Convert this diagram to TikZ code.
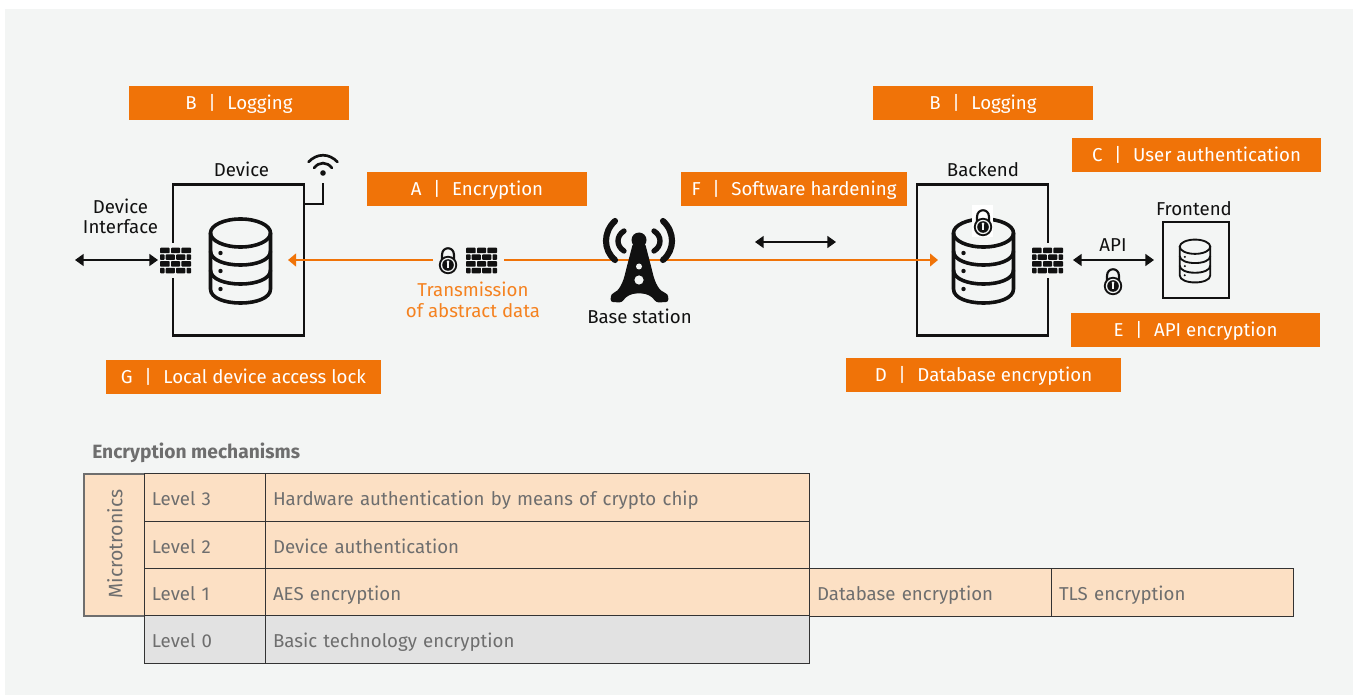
\documentclass[tikz,border=0pt]{standalone}
\usepackage{fontspec}
\setmainfont{Fira Sans}
\usetikzlibrary{arrows.meta}
\definecolor{bgc}{HTML}{F3F5F4}
\definecolor{orangec}{HTML}{F07308}
\definecolor{orangetxt}{HTML}{F58220}
\definecolor{peach}{HTML}{FCE0C4}
\definecolor{greyfill}{HTML}{E2E2E2}
\definecolor{greytxt}{HTML}{6E6E6E}
\definecolor{ink}{HTML}{111111}
\definecolor{tline}{HTML}{333333}
\newcommand{\lbl}[2]{#1\hspace{0.62em}|\hspace{0.62em}#2}
\newcommand{\dbicon}[4]{% x y scale linewidth
 \begin{scope}[shift={(#1,#2)},scale=#3,line width=#4,draw=ink]
  \draw (0,-27) ellipse [x radius=30,y radius=14];
  \draw (-30,-27) -- (-30,29) .. controls (-30,47.7) and (30,47.7) .. (30,29) -- (30,-27);
  \draw (-30,-9) .. controls (-30,9.7) and (30,9.7) .. (30,-9);
  \draw (-30,10) .. controls (-30,28.7) and (30,28.7) .. (30,10);
  \fill[ink] (-20,-7) circle [radius=2.2] (-20,11) circle [radius=2.2] (-20,29) circle [radius=2.2];
 \end{scope}}
\newcommand{\brickwall}[2]{%
 \begin{scope}[shift={(#1,#2)}]
  \fill[bgc] (-16,-17.5) rectangle (16,17.5);
  \foreach \xa/\xb in {-15.5/-5.8,-4.5/4.5,5.8/15.5} {\fill[ink,rounded corners=0.6] (\xa,-12.8) rectangle (\xb,-7.3);\fill[ink,rounded corners=0.6] (\xa,0.6) rectangle (\xb,6.1);}
  \foreach \xa/\xb in {-15.5/-11,-9.8/-0.6,0.6/9.8,11/15.5} {\fill[ink,rounded corners=0.6] (\xa,-6.1) rectangle (\xb,-0.6);\fill[ink,rounded corners=0.6] (\xa,7.3) rectangle (\xb,12.8);}
 \end{scope}}
\newcommand{\padlock}[2]{%
 \begin{scope}[shift={(#1,#2)}]
  \draw[ink,line width=1.6pt] (-6,-5) -- (-6,-10) .. controls (-6,-19) and (6,-19) .. (6,-10) -- (6,-5);
  \fill[ink] (0,0) circle [radius=9.2];
  \fill[bgc] (0,0) circle [radius=7.2];
  \fill[ink] (0,0) circle [radius=5.8];
  \fill[bgc] (0,-3.2) circle [radius=1.5];
  \fill[bgc] (-0.7,-3) rectangle (0.7,3);
 \end{scope}}
\tikzset{
 x=0.75pt,y=-0.75pt,
 sized/.style 2 args={minimum width=#1*0.75pt,minimum height=#2*0.75pt},
 obox/.style={fill=orangec,text=white,inner sep=0pt,font=\fontsize{14}{16}\selectfont,text height=12pt,text depth=2.6pt},
 plain/.style={inner sep=0pt,text=ink,font=\fontsize{14}{14.6}\selectfont,align=center},
 orangelabel/.style={inner sep=0pt,text=orangetxt,font=\fontsize{14}{15.6}\selectfont,align=center},
 frame/.style={draw=ink,line width=1.6pt,inner sep=0pt},
 cell/.style 2 args={draw=tline,line width=0.9pt,fill=#2,text=greytxt,inner xsep=5.5pt,inner ysep=0pt,minimum width=#1*0.75pt,text width=#1*0.75pt-11pt,align=left,font=\fontsize{14}{16}\selectfont,text height=14.5pt,text depth=2.5pt},
 blackarrow/.style={draw=ink,line width=1.3pt,{Triangle[length=6.5pt,width=9pt]}-{Triangle[length=6.5pt,width=9pt]}},
 orangearrow/.style={draw=orangec,line width=1.5pt,-{Triangle[length=6pt,width=9.5pt]}},
}
\begin{document}
\begin{tikzpicture}
\useasboundingbox (0,0) rectangle (1353,695);
\fill[white] (0,0) rectangle (1353,695);
\fill[bgc] (5,9) rectangle (1353,695);

% boxes
\node[frame,sized={131}{151},anchor=center] (device) at (238.7,260) {};
\node[frame,sized={131}{151}] (backend) at (982.8,260) {};
\node[frame,sized={66}{76}] (frontend) at (1196,260) {};

% coordinates
\coordinate (ifaceL) at (75,260);
\coordinate (ifaceR) at (158,260);
\coordinate (devTip) at (288,260);
\coordinate (gapL) at (433,260);
\coordinate (gapR) at (504,260);
\coordinate (backTip) at (938,260);
\coordinate (midL) at (755,242);
\coordinate (midR) at (836,242);
\coordinate (apiL) at (1073,260);
\coordinate (apiR) at (1154,260);
\coordinate (wifiFoot) at (323,204);
\coordinate (wifiTop) at (323,183);

% connectors
\draw[orangearrow] (gapL) -- (devTip);
\draw[orangearrow] (gapR) -- (backTip);
\draw[blackarrow] (ifaceL) -- (ifaceR);
\draw[blackarrow] (midL) -- (midR);
\draw[blackarrow] (apiL) -- (apiR);
\draw[ink,line width=1.6pt] (device.east |- wifiFoot) -- (wifiFoot) -- (wifiTop);

% wifi
\begin{scope}[ink,line width=2pt,line cap=round]
 \draw (308.5,162) .. controls (317,153) and (329,153) .. (337.5,162);
 \draw (314,168) .. controls (319,161.5) and (327,161.5) .. (332,168);
 \fill[ink] (323,173) circle [radius=2.8];
\end{scope}

% icons
\dbicon{240.5}{260}{1}{2.7pt}
\dbicon{983.5}{260}{1}{2.7pt}
\dbicon{1195}{260.5}{0.51}{1.4pt}
\brickwall{175.5}{260.5}
\brickwall{481.5}{260.5}
\brickwall{1047.5}{260.5}
\padlock{448}{265}
\padlock{1113}{286}
\fill[white] (972,205) rectangle (993,237);
\padlock{983}{227}

% tower
\begin{scope}[ink]
 \fill (639,240) circle [radius=7.5];
 \fill[rounded corners=2pt] (633,243) -- (645,243) -- (652,270) .. controls (655,283) and (659,291) .. (668,294) -- (668.5,302) -- (656,302.5) .. controls (652,296) and (646,293.5) .. (639,293.5) .. controls (632,293.5) and (626,296) .. (622,302.5) -- (610.5,302) -- (611,294) .. controls (619,291) and (623,283) .. (626,270) -- cycle;
 \fill[bgc] (639,266.5) circle [radius=3];
 \fill[bgc] (639,280) circle [radius=4.6];
 \begin{scope}[line width=4.6pt,line cap=round]
  \draw (615,221) .. controls (603,232) and (603,250) .. (615,260);
  \draw (663,221) .. controls (675,232) and (675,250) .. (663,260);
 \end{scope}
 \begin{scope}[line width=4pt,line cap=round]
  \draw (624,231) .. controls (616,236) and (616,246) .. (624,251);
  \draw (654,231) .. controls (662,236) and (662,246) .. (654,251);
 \end{scope}
\end{scope}

% text labels
\node[plain] (tDevice) at (241.5,169.5) {Device};
\node[plain] (tIface) at (120.5,216.5) {Device\\Interface};
\node[plain] (tBackend) at (983,170) {Backend};
\node[plain] (tFrontend) at (1194,209) {Frontend};
\node[plain] (tApi) at (1113,245.5) {API};
\node[plain] (tBase) at (639.5,316.5) {Base station};
\node[orangelabel] (tTrans) at (473,300) {Transmission\\of abstract data};

% orange boxes
\node[obox,sized={220}{34}] (b1) at (239,103) {\lbl{B}{Logging}};
\node[obox,sized={220}{34}] (b2) at (983,103) {\lbl{B}{Logging}};
\node[obox,sized={249}{34}] (c) at (1196.5,155) {\lbl{C}{User authentication}};
\node[obox,sized={220}{34}] (a) at (477,189) {\lbl{A}{Encryption}};
\node[obox,sized={226}{34}] (f) at (794,189) {\lbl{F}{Software hardening}};
\node[obox,sized={249}{34}] (e) at (1195.5,330) {\lbl{E}{API encryption}};
\node[obox,sized={275}{34}] (g) at (243.5,377) {\lbl{G}{Local device access lock}};
\node[obox,sized={275}{34}] (d) at (983.5,375) {\lbl{D}{Database encryption}};

% table
\node[anchor=west,inner sep=0pt,text=greytxt,font=\fontsize{14.4}{16}\bfseries\selectfont] (title) at (92,453) {Encryption mechanisms};
\node[draw=greytxt,line width=0.9pt,fill=peach,sized={61}{142},inner sep=0pt] (micro) at (114.5,545) {};
\node[rotate=90,inner sep=0pt,text=greytxt,font=\fontsize{14.6}{16}\selectfont] (microt) at (115,544) {Microtronics};
\foreach \nm/\yy/\fillc/\lev/\txt in {
  l3/497.5/peach/Level 3/Hardware authentication by means of crypto chip,
  l2/545/peach/Level 2/Device authentication,
  l1/592.5/peach/Level 1/AES encryption,
  l0/639.5/greyfill/Level 0/Basic technology encryption} {
  \node[cell={121}{\fillc},minimum height=47.5*0.75pt] (\nm a) at (205,\yy) {\lev};
  \node[cell={544}{\fillc},minimum height=47.5*0.75pt] (\nm b) at (537.7,\yy) {\txt};
}
\node[cell={242}{peach},minimum height=47.5*0.75pt] (dbenc) at (930.7,592.5) {Database encryption};
\node[cell={242}{peach},minimum height=47.5*0.75pt] (tls) at (1172.7,592.5) {TLS encryption};
\end{tikzpicture}
\end{document}
